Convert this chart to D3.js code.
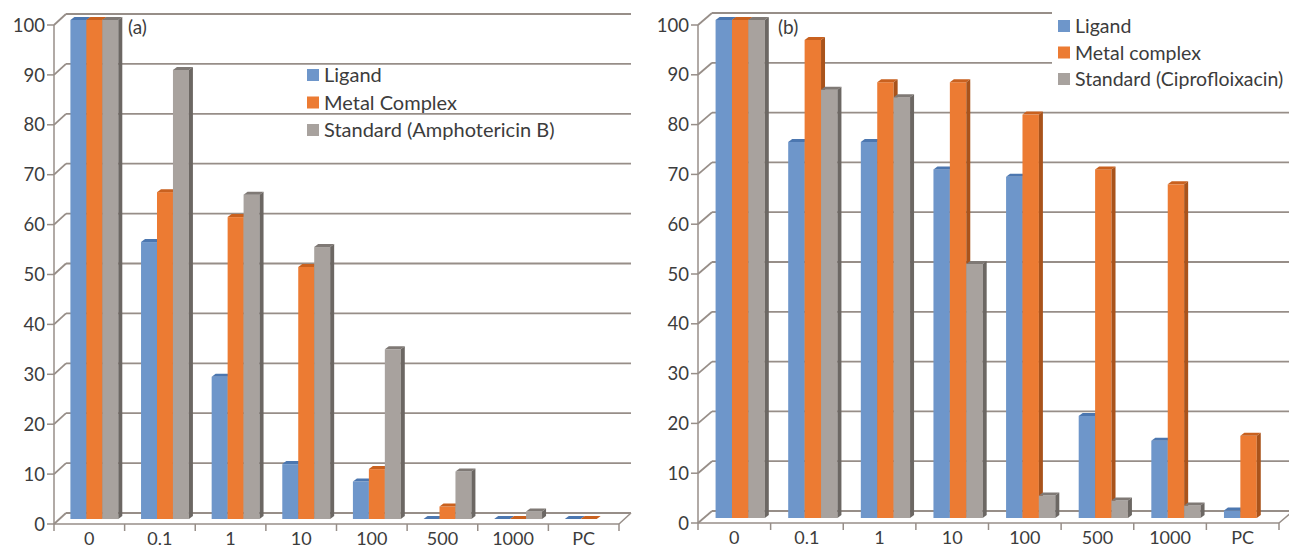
<!DOCTYPE html>
<html>
<head>
<meta charset="utf-8">
<script src="https://cdn.jsdelivr.net/npm/d3@7"></script>
<style>
  body { margin: 0; background: #fff; }
  text { font-family: Lato, "Noto Sans", sans-serif; fill: #3c3c3c; }
</style>
</head>
<body>
<div id="chart"></div>
<script>
const WIDTH = 1289
const HEIGHT = 548

const categories = ["0", "0.1", "1", "10", "100", "500", "1000", "PC"]
const yTicks = [0, 10, 20, 30, 40, 50, 60, 70, 80, 90, 100]

// panel (a) - antifungal
const namesA = ["Ligand", "Metal Complex", "Standard (Amphotericin B)"]
const ligandA = [100, 55.5, 28.5, 11, 7.5, 0, 0, 0]
const metalA = [100, 65.5, 60.5, 50.5, 10, 2.5, 0, 0]
const standardA = [100, 90, 65, 54.5, 34, 9.5, 1.5, null]

// panel (b) - antibacterial
const namesB = ["Ligand", "Metal complex", "Standard (Ciprofloixacin)"]
const ligandB = [100, 75.5, 75.5, 70, 68.5, 20.5, 15.5, 1.5]
const metalB = [100, 96, 87.5, 87.5, 81, 70, 67, 16.5]
const standardB = [100, 86, 84.5, 51, 4.5, 3.5, 2.5, null]

const colors = [
    {front: "#6e96ca", top: "#4c77b0", side: "#4a6c99"},
    {front: "#ec7b33", top: "#c9611f", side: "#a9531b"},
    {front: "#a8a29e", top: "#7f7975", side: "#6c6763"}
]
const GRID = "#978e88"

let svg = d3.select("#chart")
    .append("svg")
    .attr("width", WIDTH)
    .attr("height", HEIGHT)

function drawPanel(opts) {
    let g = svg.append("g")

    let x = d3.scaleBand()
        .domain(categories)
        .range([opts.x0, opts.x1])
    let y = d3.scaleLinear()
        .domain([0, 100])
        .range([opts.y0, opts.y100])

    let bdx = opts.depth[0], bdy = opts.depth[1]

    // back wall gridlines + side wall diagonals
    yTicks.forEach(t => {
        g.append("line")
            .attr("x1", opts.x0).attr("y1", y(t))
            .attr("x2", opts.x0 + bdx).attr("y2", y(t) + bdy)
            .attr("stroke", GRID).attr("stroke-width", 1.8)
        g.append("line")
            .attr("x1", opts.x0 + bdx).attr("y1", y(t) + bdy)
            .attr("x2", opts.x1 + bdx).attr("y2", y(t) + bdy)
            .attr("stroke", GRID).attr("stroke-width", 1.8)
        g.append("line")
            .attr("x1", opts.x0 - 7).attr("y1", y(t))
            .attr("x2", opts.x0).attr("y2", y(t))
            .attr("stroke", GRID).attr("stroke-width", 1.5)
        g.append("text")
            .attr("x", opts.x0 - 9)
            .attr("y", y(t))
            .attr("dy", "0.36em")
            .attr("text-anchor", "end")
            .style("font-size", "18.5px")
            .text(t)
    })

    // floor front edge, right edge, front axis
    g.append("line")
        .attr("x1", opts.x0).attr("y1", y(0))
        .attr("x2", opts.x1).attr("y2", y(0))
        .attr("stroke", GRID).attr("stroke-width", 1.5)
    g.append("line")
        .attr("x1", opts.x1).attr("y1", y(0))
        .attr("x2", opts.x1 + bdx).attr("y2", y(0) + bdy)
        .attr("stroke", GRID).attr("stroke-width", 1.5)
    g.append("line")
        .attr("x1", opts.x0).attr("y1", y(100))
        .attr("x2", opts.x0).attr("y2", y(0) + 7)
        .attr("stroke", GRID).attr("stroke-width", 1.5)

    categories.forEach((c, i) => {
        g.append("line")
            .attr("x1", x(c) + x.bandwidth()).attr("y1", y(0))
            .attr("x2", x(c) + x.bandwidth()).attr("y2", y(0) + 7)
            .attr("stroke", GRID).attr("stroke-width", 1.5)
        g.append("text")
            .attr("x", x(c) + x.bandwidth() / 2)
            .attr("y", y(0) + 21)
            .attr("text-anchor", "middle")
            .style("font-size", "18px")
            .text(c)
    })

    // 3d columns
    let bw = x.bandwidth() * 0.226
    let offX = bdx * 0.42, offY = -5
    let tdx = 4, tdy = -3
    let series = opts.series

    categories.forEach((c, i) => {
        let start = x(c) + (x.bandwidth() - bw * 3) / 2 + offX
        series.forEach((s, k) => {
            let v = s[i]
            if (v === null) return
            let left = start + k * bw
            let top = y(v) + offY
            let bottom = y(0) + offY
            let col = colors[k]
            g.append("rect")
                .attr("x", left).attr("y", top)
                .attr("width", bw).attr("height", bottom - top)
                .attr("fill", col.front)
            g.append("path")
                .attr("d", d3.line()([[left, top], [left + tdx, top + tdy], [left + bw + tdx, top + tdy], [left + bw, top]]) + "Z")
                .attr("fill", col.top)
            g.append("path")
                .attr("d", d3.line()([[left + bw, top], [left + bw + tdx, top + tdy], [left + bw + tdx, bottom + tdy], [left + bw, bottom]]) + "Z")
                .attr("fill", col.side)
        })
    })

    // legend
    if (opts.legendBg) {
        g.append("rect")
            .attr("x", opts.legend[0] - 6).attr("y", opts.legend[1] - 14)
            .attr("width", 260).attr("height", opts.legendGap * 3)
            .attr("fill", "#fff")
    }
    opts.names.forEach((n, k) => {
        let ly = opts.legend[1] + k * opts.legendGap
        g.append("rect")
            .attr("x", opts.legend[0]).attr("y", ly - 6)
            .attr("width", 12).attr("height", 12)
            .attr("fill", colors[k].front)
        g.append("text")
            .attr("x", opts.legend[0] + 17)
            .attr("y", ly)
            .attr("dy", "0.36em")
            .style("font-size", opts.legendSize + "px")
            .text(n)
    })

    g.append("text")
        .attr("x", opts.tag[0])
        .attr("y", opts.tag[1])
        .attr("dy", "0.36em")
        .style("font-size", "19px")
        .text(opts.tagText)
}

drawPanel({
    x0: 54, x1: 619, y0: 524, y100: 25, depth: [12, -11],
    series: [ligandA, metalA, standardA], names: namesA,
    legend: [307, 75], legendGap: 27.5, legendSize: 20, legendBg: false,
    tag: [128, 27], tagText: "(a)"
})

drawPanel({
    x0: 698, x1: 1279, y0: 523, y100: 25, depth: [14, -12],
    series: [ligandB, metalB, standardB], names: namesB,
    legend: [1058, 26], legendGap: 26.5, legendSize: 19.5, legendBg: true,
    tag: [778, 27], tagText: "(b)"
})
</script>
</body>
</html>
